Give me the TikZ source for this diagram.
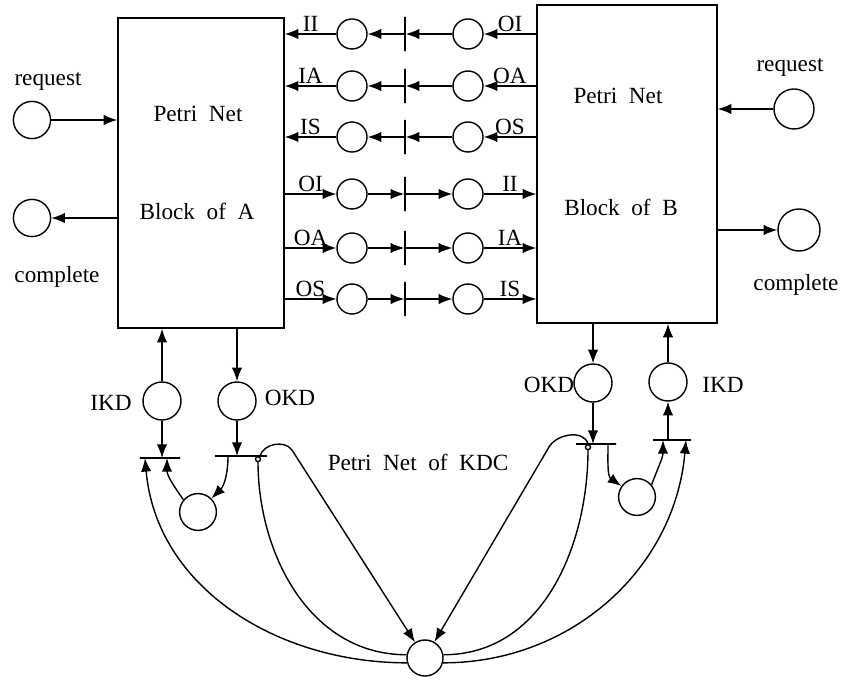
\documentclass[tikz,border=0pt]{standalone}
\usepackage{fontspec}
\setmainfont{Liberation Serif}
\usetikzlibrary{arrows.meta,positioning,calc}
\tikzset{
  block/.style={rectangle, draw=black, inner sep=0pt},
  place/.style={circle, draw=black, minimum size=0.95cm, inner sep=0pt},
  chanplace/.style={circle, draw=black, minimum size=0.75cm, inner sep=0pt},
  hbar/.style={rectangle, draw=black, minimum height=0pt, inner sep=0pt},
  vbar/.style={rectangle, draw=black, minimum width=0pt, minimum height=0.85cm, inner sep=0pt},
  lbl/.style={inner sep=1pt},
  petriarrow/.style={-{Latex[length=3.4mm,width=2.6mm]}},
  inhibarc/.style={-{Circle[open,length=1.6mm,width=1.6mm]}}
}

\begin{document}
\begin{tikzpicture}[x=0.025cm, y=-0.025cm, line width=1pt, font=\fontsize{16.5}{19}\selectfont]
\useasboundingbox (0,0) rectangle (842,682);
\node[block, minimum width=4.15cm, minimum height=7.75cm] (blockA) at (201,173) {};
\node[block, minimum width=4.5cm, minimum height=7.95cm] (blockB) at (627,164) {};
\node[lbl] (txtA1) at (198,114) {Petri\enspace Net};
\node[lbl] (txtA2) at (197,211) {Block\enspace of\enspace A};
\node[lbl] (txtB1) at (618,96) {Petri\enspace Net};
\node[lbl] (txtB2) at (621,207) {Block\enspace of\enspace B};
\node[place, minimum size=0.93cm] (reqA) at (32,120) {};
\node[place, minimum size=0.93cm] (compA) at (32,218) {};
\node[place, minimum size=1cm] (reqB) at (794,109) {};
\node[place, minimum size=1.05cm] (compB) at (799,230) {};
\node[lbl] (reqAlbl) at (48,81) {request};
\node[lbl] (compAlbl) at (57,277) {complete};
\node[lbl] (reqBlbl) at (790,67) {request};
\node[lbl] (compBlbl) at (796,285) {complete};
\draw[petriarrow] (reqA) -- (blockA.west |- reqA);
\draw[petriarrow] (blockA.west |- compA) -- (compA);
\draw[petriarrow] (reqB) -- (blockB.east |- reqB);
\draw[petriarrow] (blockB.east |- compB) -- (compB);
% channels between the blocks
\node[chanplace] (a1) at (352,34) {};
\node[chanplace] (a2) at (352,86) {};
\node[chanplace] (a3) at (352,137) {};
\node[chanplace] (a4) at (352,194) {};
\node[chanplace] (a5) at (352,248) {};
\node[chanplace] (a6) at (352,299) {};
\node[vbar] (t1) at (405,34) {};
\node[vbar] (t2) at (405,86) {};
\node[vbar] (t3) at (405,137) {};
\node[vbar] (t4) at (405,194) {};
\node[vbar] (t5) at (405,248) {};
\node[vbar] (t6) at (405,299) {};
\node[chanplace] (b1) at (468,34) {};
\node[chanplace] (b2) at (468,86) {};
\node[chanplace] (b3) at (468,137) {};
\node[chanplace] (b4) at (468,194) {};
\node[chanplace] (b5) at (468,248) {};
\node[chanplace] (b6) at (468,299) {};
\draw[petriarrow] (blockB.west |- b1) -- node[lbl, above] (lb1) {OI} (b1);
\draw[petriarrow] (b1) -- (t1);
\draw[petriarrow] (t1) -- (a1);
\draw[petriarrow] (a1) -- node[lbl, above] (la1) {II} (blockA.east |- a1);
\draw[petriarrow] (blockB.west |- b2) -- node[lbl, above] (lb2) {OA} (b2);
\draw[petriarrow] (b2) -- (t2);
\draw[petriarrow] (t2) -- (a2);
\draw[petriarrow] (a2) -- node[lbl, above] (la2) {IA} (blockA.east |- a2);
\draw[petriarrow] (blockB.west |- b3) -- node[lbl, above] (lb3) {OS} (b3);
\draw[petriarrow] (b3) -- (t3);
\draw[petriarrow] (t3) -- (a3);
\draw[petriarrow] (a3) -- node[lbl, above] (la3) {IS} (blockA.east |- a3);
\draw[petriarrow] (blockA.east |- a4) -- node[lbl, above] (la4) {OI} (a4);
\draw[petriarrow] (a4) -- (t4);
\draw[petriarrow] (t4) -- (b4);
\draw[petriarrow] (b4) -- node[lbl, above] (lb4) {II} (blockB.west |- b4);
\draw[petriarrow] (blockA.east |- a5) -- node[lbl, above] (la5) {OA} (a5);
\draw[petriarrow] (a5) -- (t5);
\draw[petriarrow] (t5) -- (b5);
\draw[petriarrow] (b5) -- node[lbl, above] (lb5) {IA} (blockB.west |- b5);
\draw[petriarrow] (blockA.east |- a6) -- node[lbl, above] (la6) {OS} (a6);
\draw[petriarrow] (a6) -- (t6);
\draw[petriarrow] (t6) -- (b6);
\draw[petriarrow] (b6) -- node[lbl, above] (lb6) {IS} (blockB.west |- b6);
% key distribution net
\node[place] (ikdA) at (162,401) {};
\node[place] (okdA) at (237,401) {};
\node[place] (okdB) at (593,383) {};
\node[place] (ikdB) at (668,382) {};
\node[lbl] (ikdAlbl) at (111,403) {IKD};
\node[lbl] (okdAlbl) at (290,398) {OKD};
\node[lbl] (okdBlbl) at (549,385) {OKD};
\node[lbl] (ikdBlbl) at (723,385) {IKD};
\node[hbar, minimum width=1cm] (trA1) at (160,458) {};
\node[hbar, minimum width=1.3cm] (trA2) at (241,456) {};
\node[hbar, minimum width=1cm] (trB1) at (596,444) {};
\node[hbar, minimum width=0.95cm] (trB2) at (672,440) {};
\node[place, minimum size=0.92cm] (pA) at (198,512) {};
\node[place, minimum size=0.92cm] (pB) at (637,497) {};
\node[place, minimum size=0.9cm] (kdc) at (425,658) {};
\node[lbl] (kdclbl) at (418,462) {Petri\enspace Net\enspace of\enspace KDC};
\draw[petriarrow] (ikdA) -- (blockA.south -| ikdA);
\draw[petriarrow] (blockA.south -| okdA) -- (okdA);
\draw[petriarrow] (ikdA) -- (ikdA |- trA1);
\draw[petriarrow] (okdA) -- (okdA |- trA2);
\draw[petriarrow] ($(trA2)+(-13,0)$) to[out=-90,in=45] (pA);
\draw[petriarrow] (pA.140) to[out=125,in=-90] ($(trA1)+(7,0)$);
\draw[petriarrow] (kdc.195) to[out=180,in=-85] ($(trA1)+(-15,0)$);
\draw[inhibarc] (kdc.170) to[out=180,in=-90] ($(trA2)+(17,0)$);
\draw[petriarrow] ($(trA2)+(19,0)$) to[out=75,in=125] ++(32,-6) -- (kdc);
\draw[petriarrow] (blockB.south -| okdB) -- (okdB);
\draw[petriarrow] (ikdB) -- (blockB.south -| ikdB);
\draw[petriarrow] (okdB) -- (okdB |- trB1);
\draw[petriarrow] (trB2 -| ikdB) -- (ikdB);
\draw[petriarrow] ($(trB1)+(12,0)$) to[out=-90,in=145] (pB);
\draw[petriarrow] (pB.40) to[out=70,in=-90] ($(trB2)+(-9,0)$);
\draw[petriarrow] (kdc.-15) to[out=0,in=-95] ($(trB2)+(14,0)$);
\draw[inhibarc] (kdc.10) to[out=0,in=-90] ($(trB1)+(-8,0)$);
\draw[petriarrow] ($(trB1)+(-8,0)$) to[out=105,in=60] ++(-39,3) -- (kdc);
\end{tikzpicture}
\end{document}
